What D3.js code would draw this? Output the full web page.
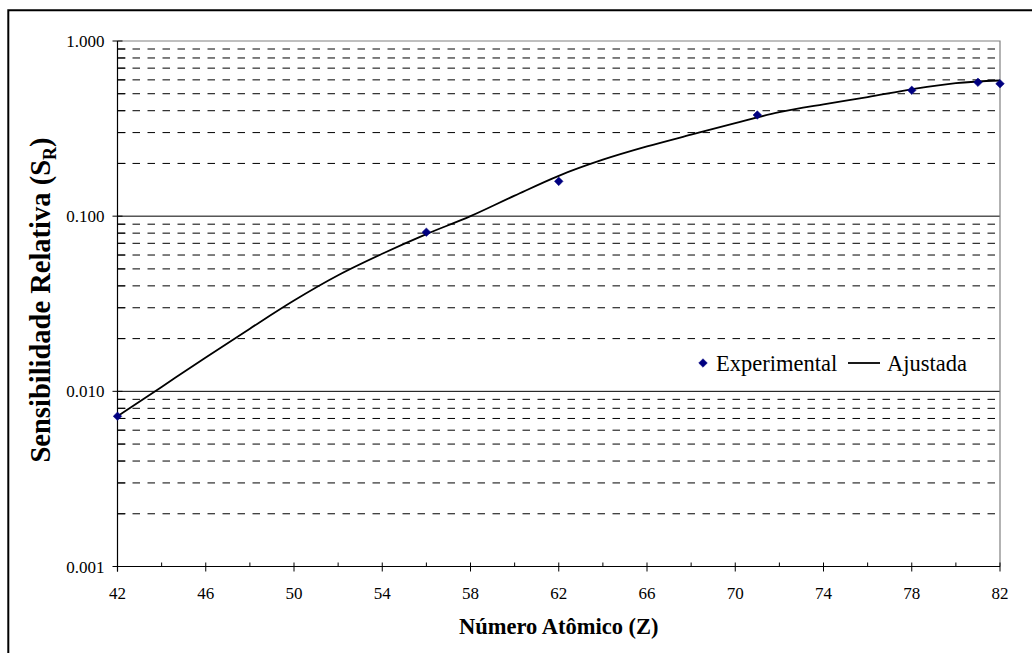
<!DOCTYPE html>
<html>
<head>
<meta charset="utf-8">
<script src="https://cdn.jsdelivr.net/npm/d3@7"></script>
<style>
  html, body { margin: 0; padding: 0; background: #fff; }
  svg { display: block; }
</style>
</head>
<body>
<svg id="chart" width="1032" height="653"></svg>
<script>
// Measured points (atomic number Z, relative sensitivity)
const expZ = [42, 56, 62, 71, 78, 81, 82];
const expS = [0.0072, 0.081, 0.158, 0.378, 0.523, 0.581, 0.570];

// Fitted curve sampled every two units of Z
const fitZ = [42, 44, 46, 48, 50, 52, 54, 56, 58, 60, 62, 64, 66, 68, 70, 72, 74, 76, 78, 80, 82];
const fitS = [0.0072, 0.0106, 0.0156, 0.0228, 0.0330, 0.0460, 0.0610, 0.0790, 0.1000, 0.1310,
              0.1700, 0.2100, 0.2500, 0.2920, 0.3400, 0.3920, 0.4350, 0.4780, 0.5300, 0.5750, 0.5950];

const xTicks = [42, 46, 50, 54, 58, 62, 66, 70, 74, 78, 82];
const xMinorTicks = [44, 48, 52, 56, 60, 64, 68, 72, 76, 80];
const yTicks = [0.001, 0.01, 0.1, 1];
const yTickLabels = ["0.001", "0.010", "0.100", "1.000"];

const xTitle = "Número Atômico (Z)";
const yTitle = "Sensibilidade Relativa (S";
const yTitleSub = "R";
const legendLabels = ["Experimental", "Ajustada"];

const FONT = "'Liberation Serif', 'Times New Roman', Tinos, 'DejaVu Serif', serif";

const svg = d3.select("#chart").attr("font-family", FONT);
const M = { left: 117.5, right: 1000, top: 41, bottom: 566.5 };

const x = d3.scaleLinear().domain([42, 82]).range([M.left, M.right]);
const y = d3.scaleLog().domain([0.001, 1]).range([M.bottom, M.top]);

// minor (dashed) log gridlines: 2..9 within each decade
const minorY = [];
[0.001, 0.01, 0.1].forEach(d => { for (let k = 2; k <= 9; k++) minorY.push(d * k); });

// outer frame
svg.append("path")
  .attr("d", `M8.3,700 V10.3 H1100`)
  .attr("fill", "none").attr("stroke", "#000").attr("stroke-width", 2);

const g = svg.append("g");

g.selectAll("line.minor").data(minorY).join("line")
  .attr("class", "minor")
  .attr("x1", M.left).attr("x2", M.right)
  .attr("y1", d => y(d)).attr("y2", d => y(d))
  .attr("stroke", "#000").attr("stroke-width", 1)
  .attr("stroke-dasharray", "7.5,7.5");

g.selectAll("line.major").data([0.01, 0.1]).join("line")
  .attr("class", "major")
  .attr("x1", M.left).attr("x2", M.right)
  .attr("y1", d => y(d)).attr("y2", d => y(d))
  .attr("stroke", "#000").attr("stroke-width", 1);

// plot area frame: top and right in gray
g.append("path")
  .attr("d", `M${M.left},${y(1)} H${M.right} V${M.bottom}`)
  .attr("fill", "none").attr("stroke", "#808080").attr("stroke-width", 1.2);

// y axis
const yAxis = g.append("g");
yAxis.append("line")
  .attr("x1", M.left).attr("x2", M.left).attr("y1", M.top).attr("y2", M.bottom + 5)
  .attr("stroke", "#000").attr("stroke-width", 1.2);
yAxis.selectAll("line.ymaj").data(yTicks).join("line")
  .attr("class", "ymaj")
  .attr("x1", M.left - 5).attr("x2", M.left + 5)
  .attr("y1", d => y(d)).attr("y2", d => y(d))
  .attr("stroke", "#000").attr("stroke-width", 1);
yAxis.selectAll("line.ymin").data(minorY).join("line")
  .attr("class", "ymin")
  .attr("x1", M.left).attr("x2", M.left + 8)
  .attr("y1", d => y(d)).attr("y2", d => y(d))
  .attr("stroke", "#000").attr("stroke-width", 1);
yAxis.selectAll("text").data(yTicks).join("text")
  .attr("x", M.left - 13).attr("y", d => y(d) + 6)
  .attr("text-anchor", "end").attr("font-size", 17)
  .text((d, i) => yTickLabels[i]);

// x axis
const xAxis = g.append("g");
xAxis.append("line")
  .attr("x1", M.left).attr("x2", M.right).attr("y1", M.bottom).attr("y2", M.bottom)
  .attr("stroke", "#000").attr("stroke-width", 1.2);
xAxis.selectAll("line.xmaj").data(xTicks).join("line")
  .attr("class", "xmaj")
  .attr("x1", d => x(d)).attr("x2", d => x(d))
  .attr("y1", M.bottom - 4).attr("y2", M.bottom + 5)
  .attr("stroke", "#000").attr("stroke-width", 1);
xAxis.selectAll("line.xmin").data(xMinorTicks).join("line")
  .attr("class", "xmin")
  .attr("x1", d => x(d)).attr("x2", d => x(d))
  .attr("y1", M.bottom - 4).attr("y2", M.bottom)
  .attr("stroke", "#000").attr("stroke-width", 1);
xAxis.selectAll("text").data(xTicks).join("text")
  .attr("x", d => x(d)).attr("y", M.bottom + 32)
  .attr("text-anchor", "middle").attr("font-size", 17)
  .text(d => d);

// fitted curve
const line = d3.line()
  .x((d, i) => x(fitZ[i])).y(d => y(d))
  .curve(d3.curveMonotoneX);
g.append("path")
  .datum(fitS)
  .attr("d", line)
  .attr("fill", "none").attr("stroke", "#000").attr("stroke-width", 1.8);

// experimental markers
const diamond = r => `M0,${-r}L${r},0L0,${r}L${-r},0Z`;
g.selectAll("path.pt").data(expS).join("path")
  .attr("class", "pt")
  .attr("transform", (d, i) => `translate(${x(expZ[i])},${y(d)})`)
  .attr("d", diamond(4.3))
  .attr("fill", "#000080").attr("stroke", "#000080").attr("stroke-width", 0.5);

// axis titles
svg.append("text")
  .attr("x", (M.left + M.right) / 2).attr("y", 634)
  .attr("text-anchor", "middle").attr("font-size", 22.5).attr("font-weight", "bold")
  .text(xTitle);

const yt = svg.append("text")
  .attr("transform", `translate(50,300) rotate(-90)`)
  .attr("text-anchor", "middle").attr("font-size", 28.5).attr("font-weight", "bold");
yt.append("tspan").text(yTitle);
yt.append("tspan").attr("font-size", 18).attr("dy", 6).text(yTitleSub);
yt.append("tspan").attr("dy", -6).text(")");

// legend
const lg = svg.append("g").attr("transform", "translate(703,363)");
lg.append("path").attr("d", diamond(4.3)).attr("fill", "#000080").attr("stroke", "#000080").attr("stroke-width", 0.5);
lg.append("text").attr("x", 13).attr("y", 7.5).attr("font-size", 22.5).text(legendLabels[0]);
lg.append("line").attr("x1", 145).attr("x2", 177).attr("y1", 0).attr("y2", 0)
  .attr("stroke", "#000").attr("stroke-width", 1.8);
lg.append("text").attr("x", 184).attr("y", 7.5).attr("font-size", 22.5).text(legendLabels[1]);
</script>
</body>
</html>
